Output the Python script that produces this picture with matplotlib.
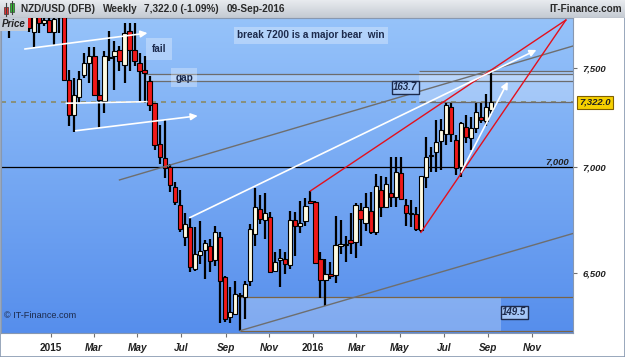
import numpy as np
import pandas as pd
import matplotlib
matplotlib.use('Agg')
import matplotlib.pyplot as plt
import matplotlib.dates as mdates
import matplotlib.transforms as mtransforms
from matplotlib.patches import Rectangle
from matplotlib.ticker import NullLocator, NullFormatter

plt.rcParams['font.family'] = ['Liberation Sans', 'DejaVu Sans']

W, H = 625, 357

# weekly candles (monday of each week), last week = 09-Sep-2016
dates = pd.date_range(end='2016-09-05', periods=97, freq='W-MON')

opens = [7735, 7770, 7850, 7800, 7800, 7690, 7775, 7740, 7755, 7692,
         7790, 7770, 7438, 7256, 7350, 7463, 7526, 7563, 7360, 7330,
         7555, 7563, 7595, 7516, 7697, 7595, 7526, 7490, 7433, 7320,
         7115, 7045, 7000, 6903, 6818, 6665, 6711, 6519, 6582, 6605,
         6624, 6560, 6665, 6483, 6307, 6320, 6404, 6395, 6465, 6679,
         6800, 6748, 6762, 6510, 6560, 6564, 6537, 6744, 6716, 6739,
         6837, 6832, 6564, 6470, 6496, 6492, 6624, 6628, 6651, 6642,
         6795, 6730, 6790, 6688, 6889, 6809, 6875, 6856, 6970, 6818,
         6772, 6772, 6697, 6951, 7055, 7075, 7130, 7164, 7300, 7134,
         7000, 7199, 7145, 7194, 7249, 7229, 7285]
highs = [7780, 7880, 7950, 7860, 7850, 7820, 7800, 7790, 7790, 7800,
         7830, 7790, 7490, 7448, 7484, 7578, 7611, 7611, 7438, 7590,
         7697, 7643, 7616, 7739, 7739, 7739, 7578, 7563, 7458, 7320,
         7209, 7234, 7015, 6927, 6889, 6781, 6757, 6711, 6739, 6651,
         6656, 6716, 6688, 6488, 6439, 6465, 6412, 6465, 6725, 6898,
         6866, 6875, 6785, 6596, 6610, 6596, 6790, 6785, 6837, 6851,
         6884, 6836, 6596, 6564, 6550, 6767, 6748, 6670, 6781, 6828,
         6828, 6875, 6880, 6965, 6956, 6951, 7050, 7050, 7050, 6846,
         6842, 6809, 6956, 7150, 7100, 7234, 7240, 7320, 7320, 7160,
         7224, 7259, 7250, 7320, 7320, 7366, 7485.7]
lows = [7660, 7720, 7760, 7720, 7688, 7605, 7686, 7725, 7686, 7620,
        7686, 7430, 7205, 7174, 7320, 7448, 7422, 7355, 7194, 7270,
        7537, 7386, 7484, 7422, 7484, 7510, 7330, 7320, 7280, 7085,
        7015, 6947, 6880, 6818, 6688, 6623, 6506, 6510, 6541, 6474,
        6506, 6532, 6277, 6285, 6277, 6316, 6245, 6298, 6443, 6623,
        6725, 6656, 6500, 6506, 6439, 6496, 6519, 6578, 6683, 6716,
        6826, 6540, 6390, 6355, 6474, 6456, 6587, 6550, 6587, 6569,
        6623, 6693, 6679, 6674, 6762, 6804, 6809, 6809, 6842, 6716,
        6711, 6693, 6688, 6898, 6975, 6975, 6985, 7110, 7125, 6960,
        6951, 7120, 7085, 7169, 7219, 7204, 7264]
closes = [7720, 7850, 7800, 7780, 7710, 7770, 7740, 7755, 7692, 7760,
          7770, 7440, 7256, 7360, 7443, 7526, 7563, 7360, 7335, 7563,
          7560, 7590, 7537, 7686, 7595, 7537, 7484, 7474, 7310, 7110,
          7050, 6995, 6913, 6832, 6702, 6725, 6528, 6587, 6600, 6637,
          6555, 6688, 6465, 6298, 6325, 6408, 6399, 6452, 6702, 6809,
          6753, 6781, 6506, 6550, 6569, 6541, 6748, 6716, 6734, 6813,
          6828, 6546, 6470, 6496, 6488, 6628, 6633, 6633, 6637, 6818,
          6753, 6809, 6688, 6908, 6809, 6918, 6856, 6975, 6846, 6781,
          6781, 6702, 6956, 7050, 7060, 7125, 7184, 7310, 7164, 6995,
          7219, 7150, 7194, 7274, 7234, 7300, 7322]

last_close = 7322.0
level_7000 = 7000
gap_band = (7433, 7469)
box_163 = (7322.0, 7485.7)
box_149 = (6245.0, 6394.5)

# drawn trend lines: start date, start price, end date, end price
white_arrows = [('2014-11-25', 7600, '2015-05-15', 7685),
                ('2015-02-04', 7179, '2015-07-24', 7254),
                ('2015-07-13', 6757, '2016-11-07', 7595),
                ('2016-07-25', 6975, '2016-09-28', 7428)]
white_lines = [('2015-01-22', 7318, '2015-05-14', 7326)]
grey_lines = [('2015-04-06', 6937, '2016-12-28', 7616),
              ('2015-09-21', 6245, '2016-12-28', 6683)]
red_lines = [('2015-12-28', 6884, '2016-12-18', 7755),
             ('2016-05-30', 6688, '2016-12-18', 7755)]

y_ticks = [6500, 7000, 7500]
y_tick_labels = ['6,500', '7,000', '7,500']
x_tick_dates = ['2015-01-01', '2015-03-01', '2015-05-01', '2015-07-01', '2015-09-01', '2015-11-01',
                '2016-01-01', '2016-03-01', '2016-05-01', '2016-07-01', '2016-09-01', '2016-11-01']
x_tick_labels = ['2015', 'Mar', 'May', 'Jul', 'Sep', 'Nov', '2016', 'Mar', 'May', 'Jul', 'Sep', 'Nov']


def dn(s):
    return mdates.date2num(pd.Timestamp(s))


navy = '#1c2a4c'
fig = plt.figure(figsize=(W / 100, H / 100), dpi=100)
fig.patch.set_facecolor('white')
pos = [1 / W, 1 - 333 / H, 572 / W, 315 / H]

# background gradient
bg = fig.add_axes(pos, zorder=0)
g = np.linspace(0, 1, 256)[:, None, None]
top_c = np.array([150, 195, 250]) / 255
bot_c = np.array([86, 142, 236]) / 255
bg.imshow(top_c * (1 - g) + bot_c * g, aspect='auto', extent=[0, 1, 0, 1])
bg.axis('off')

ax = fig.add_axes(pos, zorder=1)
ax.patch.set_visible(False)
ax.set_yscale('log')
xl0, xl1 = dn('2014-10-22 22:00'), dn('2016-12-27 22:00')
ax.set_xlim(xl0, xl1)
ax.set_ylim(6235, 7766)

# horizontal levels and boxes
ax.axhline(level_7000, color='black', lw=0.9, zorder=2)
ax.axhline(last_close, color='#8a8a66', lw=1.2, ls=(0, (3, 3)), zorder=2)
ax.fill_between([dn('2015-05-11'), xl1], gap_band[0], gap_band[1], color='white', alpha=0.22, lw=0, zorder=1)
ax.hlines(gap_band, dn('2015-05-11'), xl1, color='#6c6c6c', lw=0.9, zorder=2)
ax.fill_between([dn('2016-05-28'), xl1], box_163[0], box_163[1], color='white', alpha=0.25, lw=0, zorder=1)
ax.hlines(box_163, dn('2016-05-28'), xl1, color='#6c6c6c', lw=0.9, zorder=2)
ax.fill_between([dn('2015-09-21'), dn('2016-09-19')], box_149[0], box_149[1], color='white', alpha=0.25, lw=0, zorder=1)
ax.hlines(box_149, dn('2015-09-21'), xl1, color='#7a6446', lw=0.9, zorder=2)

# candles
xd = mdates.date2num(dates)
o, c = np.array(opens), np.array(closes)
up = c >= o
ax.vlines(xd, lows, highs, color='black', lw=1.6, zorder=3)
cols = np.where(up, '#fffbe2', '#f01818')
ax.bar(xd, np.maximum(np.abs(c - o), 3), bottom=np.minimum(o, c), width=6.0,
       color=cols, edgecolor='black', linewidth=0.8, zorder=4)

# trend lines
for d1, p1, d2, p2 in grey_lines:
    ax.plot([dn(d1), dn(d2)], [p1, p2], color='#6e6e6e', lw=1.0, zorder=5)
for d1, p1, d2, p2 in red_lines:
    ax.plot([dn(d1), dn(d2)], [p1, p2], color='#e4101c', lw=1.0, zorder=5)
for d1, p1, d2, p2 in white_lines:
    ax.plot([dn(d1), dn(d2)], [p1, p2], color='white', lw=1.2, zorder=5)
for d1, p1, d2, p2 in white_arrows:
    ax.annotate('', xy=(dn(d2), p2), xytext=(dn(d1), p1), zorder=6,
                arrowprops=dict(arrowstyle='-|>', color='white', lw=1.2, mutation_scale=10, shrinkA=0, shrinkB=0))

# labels inside the chart
tb = dict(boxstyle='square,pad=0.35', fc='white', ec='none', alpha=0.3)
ax.text(0.542, 0.946, 'break 7200 is a major bear  win', transform=ax.transAxes, ha='center', va='center',
        fontsize=7.2, fontweight='bold', color=navy, bbox=tb, zorder=7)
ax.text(0.276, 0.902, 'fail', transform=ax.transAxes, ha='center', va='center',
        fontsize=7.2, fontweight='bold', color=navy, bbox=dict(tb, boxstyle='square,pad=0.6'), zorder=7)
ax.text(0.320, 0.810, 'gap', transform=ax.transAxes, ha='center', va='center',
        fontsize=7.2, fontweight='bold', color=navy, bbox=dict(tb, boxstyle='square,pad=0.45'), zorder=7)
lb = dict(boxstyle='square,pad=0.15', fc='#a4c6f6', ec=navy, lw=1.0)
ax.text(dn('2016-05-08'), 7401, '163.7', ha='center', va='center', fontsize=7, fontweight='bold',
        fontstyle='italic', color=navy, bbox=lb, zorder=7)
ax.text(dn('2016-10-07'), 6325, '149.5', ha='center', va='center', fontsize=7, fontweight='bold',
        fontstyle='italic', color=navy, bbox=lb, zorder=7)
ax.text(dn('2016-12-22'), level_7000 + 4, '7,000', ha='right', va='bottom', fontsize=6.8, fontweight='bold',
        fontstyle='italic', color='#202020', zorder=7)
ax.text(0.005, 0.057, '\u00a9 IT-Finance.com', transform=ax.transAxes, ha='left', va='center',
        fontsize=6.6, color=navy, zorder=7)
ax.text(0.002, 0.996, 'Price', transform=ax.transAxes, ha='left', va='top', fontsize=7, fontweight='bold',
        fontstyle='italic', color='#202020', bbox=dict(boxstyle='square,pad=0.2', fc='#c4ccd6', ec='none'), zorder=8)

# right axis
ax.yaxis.tick_right()
ax.set_yticks(y_ticks)
ax.set_yticklabels(y_tick_labels)
ax.yaxis.set_minor_locator(NullLocator())
ax.yaxis.set_minor_formatter(NullFormatter())
ax.tick_params(axis='y', length=3, width=0.8, color='#707070', pad=4, labelsize=6.8, labelcolor='#202020')
for lbl in ax.get_yticklabels():
    lbl.set_fontstyle('italic')
    lbl.set_fontweight('bold')
trans = mtransforms.blended_transform_factory(ax.transAxes, ax.transData)
ax.text(1.011, last_close, '7,322.0', transform=trans, ha='left', va='center', fontsize=6.8,
        fontweight='bold', fontstyle='italic', color='#202020',
        bbox=dict(boxstyle='square,pad=0.2', fc='#f6d000', ec='#806000', lw=0.8), clip_on=False, zorder=8)

# bottom axis
ax.set_xticks([dn(d) for d in x_tick_dates])
ax.set_xticklabels(x_tick_labels)
ax.tick_params(axis='x', length=3, width=0.8, color='#707070', pad=4, labelsize=7.2, labelcolor='#202020')
for lbl in ax.get_xticklabels():
    lbl.set_fontweight('bold')
    if not lbl.get_text().isdigit():
        lbl.set_fontstyle('italic')
for sp in ax.spines.values():
    sp.set_color('#8898b0')
    sp.set_linewidth(0.8)

# header bar
hdr = fig.add_axes([0, 1 - 18 / H, 1, 18 / H], zorder=2)
hg = np.linspace(0, 1, 32)[:, None, None]
hdr.imshow(np.array([232, 235, 239]) / 255 * (1 - hg) + np.array([196, 202, 210]) / 255 * hg,
           aspect='auto', extent=[0, W, 18, 0])
hdr.set_xlim(0, W)
hdr.set_ylim(18, 0)
hdr.axis('off')
hdr.plot([6, 6], [3, 16], color='#404040', lw=0.8)
hdr.add_patch(Rectangle((4, 7), 4, 7, fc='#e83030', ec='#604040', lw=0.6))
hdr.plot([12, 12], [1, 14], color='#404040', lw=0.8)
hdr.add_patch(Rectangle((10, 3), 4, 9, fc='#30c030', ec='#406040', lw=0.6))
hk = dict(fontsize=7.2, fontweight='bold', color='#2a2a2a', va='center')
hdr.text(21, 9, 'NZD/USD (DFB)', ha='left', **hk)
hdr.text(103, 9, 'Weekly', ha='left', **hk)
hdr.text(144, 9, '7,322.0 (-1.09%)', ha='left', **hk)
hdr.text(227, 9, '09-Sep-2016', ha='left', **hk)
hdr.text(622, 9, 'IT-Finance.com', ha='right', **hk)
hdr.axhline(17.6, color='#8090a0', lw=0.8)

fig.add_artist(Rectangle((0, 0), 1, 1, transform=fig.transFigure, fill=False, ec='#8898b0', lw=1.2))

fig.savefig('out.png', dpi=100)
